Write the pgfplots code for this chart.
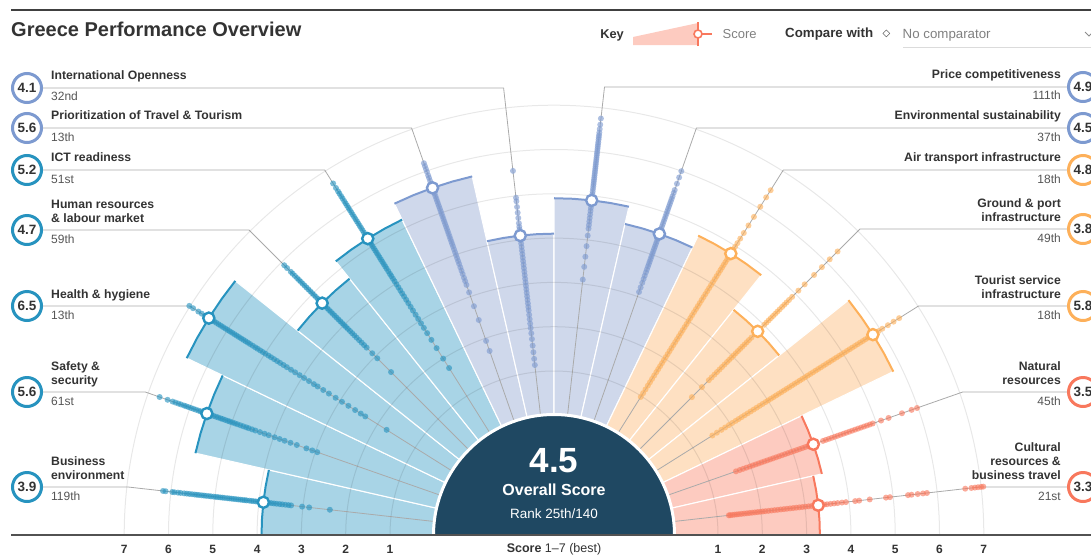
\documentclass[border=0pt]{standalone}
\usepackage{pgfplots}
\pgfplotsset{compat=1.18}
\usepackage{pgfplotstable}
\usepackage{fontspec}
\setmainfont{Liberation Sans}
\newfontfamily\dejavu{DejaVu Sans}

\definecolor{bF}{HTML}{A8D4E6}
\definecolor{bS}{HTML}{2793BF}
\definecolor{lF}{HTML}{CFD8EB}
\definecolor{lS}{HTML}{7D9AD0}
\definecolor{oF}{HTML}{FEE0C2}
\definecolor{oS}{HTML}{FDB05A}
\definecolor{sF}{HTML}{FDCBC0}
\definecolor{sS}{HTML}{F8785D}
\definecolor{navy}{HTML}{1F4862}
\definecolor{txt}{HTML}{333333}
\definecolor{rk}{HTML}{555555}
\definecolor{lg}{HTML}{AAAAAA}

% wedge geometry (angle offsets, f=0 centre point)
\pgfplotstableread{
d f
0 0
-6.4286 1
-3.2143 1
0 1
3.2143 1
6.4286 1
}\wshape
\pgfplotstableread{
d f
-6.4286 1
-3.2143 1
0 1
3.2143 1
6.4286 1
}\ashape
\pgfplotstableread{
d f
0 1
}\onerow

% scores of all countries per pillar (read off the dot strips)
\pgfplotstableread[row sep=\\]{s\\6.18\\6.12\\5.97\\5.92\\5.84\\5.78\\5.7\\5.64\\5.58\\5.52\\5.46\\5.41\\5.36\\5.3\\5.25\\5.2\\5.14\\5.09\\5.03\\4.98\\4.93\\4.88\\4.83\\4.78\\4.72\\4.67\\4.62\\4.57\\4.52\\4.47\\4.42\\4.37\\4.32\\4.28\\4.22\\4.17\\4.12\\4.07\\4.02\\3.97\\3.9\\3.84\\3.78\\3.72\\3.66\\3.6\\3.53\\3.47\\3.4\\3.33\\3.27\\3.02\\2.86\\2.39\\}\dA
\pgfplotstableread[row sep=\\]{s\\6.73\\6.54\\6.42\\6.35\\6.28\\6.22\\6.15\\6.1\\6.04\\5.98\\5.92\\5.86\\5.8\\5.75\\5.69\\5.64\\5.55\\5.5\\5.44\\5.38\\5.33\\5.27\\5.22\\5.16\\5.1\\5.05\\4.99\\4.93\\4.87\\4.8\\4.73\\4.66\\4.6\\4.52\\4.44\\4.33\\4.22\\4.12\\3.98\\3.86\\3.74\\3.6\\3.45\\3.22\\3.08\\2.96\\}\dB
\pgfplotstableread[row sep=\\]{s\\7.02\\6.92\\6.78\\6.69\\6.6\\6.55\\6.42\\6.36\\6.3\\6.24\\6.18\\6.12\\6.06\\6.0\\5.94\\5.88\\5.82\\5.76\\5.7\\5.64\\5.58\\5.52\\5.46\\5.4\\5.33\\5.26\\5.2\\5.13\\5.06\\4.99\\4.91\\4.84\\4.76\\4.68\\4.6\\4.51\\4.42\\4.31\\4.2\\4.08\\3.96\\3.83\\3.7\\3.6\\3.45\\3.3\\3.12\\2.95\\2.78\\2.6\\2.45\\2.33\\1.76\\}\dC
\pgfplotstableread[row sep=\\]{s\\5.91\\5.82\\5.7\\5.64\\5.57\\5.5\\5.44\\5.38\\5.32\\5.26\\5.2\\5.14\\5.08\\5.02\\4.96\\4.9\\4.84\\4.78\\4.66\\4.6\\4.54\\4.48\\4.42\\4.36\\4.3\\4.24\\4.18\\4.12\\4.06\\4.0\\3.94\\3.88\\3.81\\3.74\\3.67\\3.6\\3.52\\3.44\\3.36\\3.28\\3.1\\2.94\\2.5\\}\dD
\pgfplotstableread[row sep=\\]{s\\6.67\\6.55\\6.46\\6.4\\6.33\\6.27\\6.2\\6.14\\6.08\\6.02\\5.96\\5.9\\5.84\\5.78\\5.72\\5.66\\5.6\\5.54\\5.48\\5.42\\5.36\\5.3\\5.12\\5.06\\5.0\\4.94\\4.88\\4.82\\4.76\\4.7\\4.64\\4.58\\4.52\\4.46\\4.4\\4.33\\4.26\\4.2\\4.13\\4.06\\3.98\\3.9\\3.82\\3.74\\3.66\\3.57\\3.48\\3.38\\3.28\\3.17\\3.06\\2.94\\2.82\\2.68\\2.5\\2.28\\2.0\\1.75\\}\dE
\pgfplotstableread[row sep=\\]{s\\6.19\\6.12\\6.05\\5.98\\5.9\\5.84\\5.77\\5.7\\5.52\\5.46\\5.4\\5.34\\5.28\\5.22\\5.16\\5.1\\5.04\\4.98\\4.92\\4.86\\4.8\\4.74\\4.68\\4.62\\4.56\\4.5\\4.44\\4.38\\4.32\\4.26\\4.2\\4.13\\4.06\\3.99\\3.92\\3.85\\3.78\\3.7\\3.62\\3.54\\3.45\\3.37\\3.28\\3.1\\2.77\\2.44\\1.94\\1.7\\}\dF
\pgfplotstableread[row sep=\\]{s\\5.57\\4.96\\4.88\\4.75\\4.62\\4.5\\4.38\\4.3\\4.24\\4.0\\3.92\\3.84\\3.76\\3.68\\3.6\\3.52\\3.44\\3.36\\3.28\\3.2\\3.12\\3.04\\2.96\\2.88\\2.8\\2.72\\2.64\\2.56\\2.48\\2.4\\2.3\\2.2\\2.1\\2.0\\1.88\\1.75\\1.6\\1.45\\1.3\\1.16\\}\dG
\pgfplotstableread[row sep=\\]{s\\6.76\\6.62\\6.52\\6.44\\6.38\\6.33\\6.28\\6.22\\6.17\\6.12\\6.07\\6.02\\5.97\\5.92\\5.87\\5.82\\5.77\\5.72\\5.67\\5.62\\5.57\\5.52\\5.47\\5.42\\5.37\\5.32\\5.27\\5.22\\5.16\\5.1\\5.04\\4.8\\4.73\\4.66\\4.58\\4.5\\4.42\\4.34\\4.26\\4.1\\3.86\\3.62\\3.39\\3.1\\}\dH
\pgfplotstableread[row sep=\\]{s\\6.0\\5.85\\5.7\\5.55\\5.48\\5.4\\5.34\\5.28\\5.22\\5.16\\5.1\\5.04\\4.98\\4.92\\4.86\\4.8\\4.74\\4.68\\4.62\\4.38\\4.32\\4.26\\4.2\\4.14\\4.08\\4.02\\3.96\\3.9\\3.84\\3.78\\3.72\\3.65\\3.58\\3.5\\3.42\\3.33\\3.22\\3.11\\}\dI
\pgfplotstableread[row sep=\\]{s\\6.49\\6.3\\6.05\\5.78\\5.55\\5.35\\5.2\\5.08\\4.98\\4.9\\4.64\\4.57\\4.5\\4.43\\4.36\\4.28\\4.2\\4.12\\4.04\\3.96\\3.88\\3.8\\3.72\\3.64\\3.56\\3.48\\3.4\\3.32\\3.24\\3.16\\3.08\\3.0\\2.92\\2.84\\2.76\\2.68\\2.6\\2.52\\2.44\\2.36\\2.28\\2.2\\2.12\\2.04\\1.96\\1.88\\1.8\\1.72\\1.64\\1.55\\1.46\\1.37\\1.28\\1.18\\1.08\\0.98\\}\dJ
\pgfplotstableread[row sep=\\]{s\\6.35\\6.1\\5.85\\5.6\\5.3\\5.1\\4.9\\4.8\\4.72\\4.65\\4.58\\4.5\\4.43\\4.36\\4.29\\4.22\\4.15\\4.08\\4.01\\3.6\\3.52\\3.45\\3.38\\3.31\\3.24\\3.17\\3.1\\3.03\\2.96\\2.89\\2.82\\2.74\\2.66\\2.58\\2.5\\2.42\\2.33\\2.24\\2.02\\1.7\\}\dK
\pgfplotstableread[row sep=\\]{s\\6.5\\6.35\\6.2\\6.05\\5.95\\5.67\\5.6\\5.53\\5.46\\5.39\\5.32\\5.25\\5.18\\5.11\\5.04\\4.97\\4.9\\4.83\\4.76\\4.69\\4.62\\4.55\\4.48\\4.41\\4.34\\4.27\\4.2\\4.13\\4.06\\3.99\\3.92\\3.85\\3.78\\3.71\\3.64\\3.57\\3.5\\3.43\\3.36\\3.29\\3.22\\3.15\\3.08\\3.01\\2.94\\2.86\\2.78\\2.7\\2.62\\2.54\\2.46\\2.38\\2.3\\2.22\\2.14\\2.05\\1.96\\1.86\\1.76\\1.64\\1.52\\}\dL
\pgfplotstableread[row sep=\\]{s\\5.98\\5.85\\5.62\\5.3\\5.12\\4.92\\4.85\\4.78\\4.71\\4.64\\4.57\\4.5\\4.43\\4.36\\4.29\\4.22\\4.15\\4.08\\4.01\\3.94\\3.87\\3.8\\3.73\\3.38\\3.31\\3.24\\3.17\\3.1\\3.03\\2.96\\2.89\\2.82\\2.75\\2.68\\2.61\\2.54\\2.47\\2.4\\2.33\\2.26\\2.19\\2.12\\2.05\\1.98\\1.9\\1.82\\1.74\\1.65\\}\dM
\pgfplotstableread[row sep=\\]{s\\7.05\\7.0\\6.93\\6.86\\6.78\\6.64\\5.77\\5.68\\5.56\\5.42\\5.34\\4.93\\4.84\\4.47\\4.23\\4.14\\3.93\\3.84\\3.74\\3.66\\3.58\\3.5\\3.44\\3.22\\3.15\\3.08\\3.01\\2.94\\2.87\\2.8\\2.73\\2.66\\2.59\\2.52\\2.45\\2.38\\2.31\\2.24\\2.17\\2.1\\2.04\\1.98\\1.92\\1.86\\1.8\\1.74\\1.68\\1.62\\1.56\\1.5\\1.45\\1.4\\1.35\\1.3\\1.27\\}\dN

% radius of a score: 119.7 + 44.3*s  (axis unit = 1pt = 1px)
\newcommand\Wfill[3]{\addplot[fill=#3, draw=white, line width=1.1pt] table[x expr={\thisrow{f}*(119.7+44.3*#2)*cos(#1+(\thisrow{d}))}, y expr={\thisrow{f}*(119.7+44.3*#2)*sin(#1+(\thisrow{d}))}] {\wshape} -- cycle;}
\newcommand\Warc[3]{\addplot[draw=#3, line width=2pt] table[x expr={(119.7+44.3*#2)*cos(#1+(\thisrow{d}))}, y expr={(119.7+44.3*#2)*sin(#1+(\thisrow{d}))}] {\ashape};}
\newcommand\Wmark[3]{\addplot[only marks, mark=*, mark size=5.6pt, mark options={fill=white, draw=#3, line width=2.4pt}] table[x expr={(119.7+44.3*#2)*cos(#1)}, y expr={(119.7+44.3*#2)*sin(#1)}] {\onerow};}
\newcommand\Wdots[3]{\addplot[only marks, color=#2, mark=*, mark size=3pt, mark options={fill=#2, draw opacity=0, fill opacity=0.62}] table[x index=0, y index=0, x expr={(119.7+44.3*\thisrow{s})*cos(#1)}, y expr={(119.7+44.3*\thisrow{s})*sin(#1)}] {#3};}
\newcommand\Ring[3]{\addplot[only marks, mark=*, mark size=14.5pt, mark options={fill=white, draw=#3, line width=3pt}] coordinates {(#1,#2)};}
\newcommand\Lead[3]{\addplot[draw=lg, line width=0.8pt] coordinates {(#1,#3) (#2,#3) (0,0)};}
% text (placed after the axis, in a scope whose origin is the chart centre)
\newcommand\RN[3]{\node[inner sep=0, font={\fontsize{13.5}{15}\selectfont\bfseries}, text=txt] at (#1,#2) {#3};}
\newcommand\LT[2]{\node[anchor=base west, inner sep=0, font={\fontsize{12.2}{14}\selectfont\bfseries}, text=txt] at (-503,#1) {#2};}
\newcommand\LR[2]{\node[anchor=base west, inner sep=0, font={\fontsize{12}{14}\selectfont}, text=rk] at (-503,#1) {#2};}
\newcommand\RT[2]{\node[anchor=base east, inner sep=0, font={\fontsize{12.2}{14}\selectfont\bfseries}, text=txt] at (507,#1) {#2};}
\newcommand\RR[2]{\node[anchor=base east, inner sep=0, font={\fontsize{12}{14}\selectfont}, text=rk] at (507,#1) {#2};}

\begin{document}
\begin{tikzpicture}
\useasboundingbox (0,0) rectangle (1091pt,558pt);
\begin{axis}[at={(0pt,0pt)}, anchor=south west, x=1pt, y=1pt,
  xmin=-554, xmax=537, ymin=-23, ymax=535, hide axis, clip=false]

% wedges (Greece pillar scores)
\Wfill{173.5714}{3.9}{bF}
\Wfill{160.7143}{5.6}{bF}
\Wfill{147.8571}{6.5}{bF}
\Wfill{135}{4.7}{bF}
\Wfill{122.1429}{5.2}{bF}
\Wfill{109.2857}{5.6}{lF}
\Wfill{96.4286}{4.1}{lF}
\Wfill{83.5714}{4.9}{lF}
\Wfill{70.7143}{4.5}{lF}
\Wfill{57.8571}{4.8}{oF}
\Wfill{45}{3.8}{oF}
\Wfill{32.1429}{5.8}{oF}
\Wfill{19.2857}{3.5}{sF}
\Wfill{6.4286}{3.3}{sF}

% grid arcs, scores 1..7
\pgfplotsinvokeforeach{164.0,208.3,252.6,296.9,341.2,385.5,429.8}{
  \addplot[only marks, mark=o, mark size=#1pt, mark options={draw=black, draw opacity=0.09, line width=1pt}] coordinates {(0,0)};}

% outer arcs
\Warc{173.5714}{3.9}{bS}
\Warc{160.7143}{5.6}{bS}
\Warc{147.8571}{6.5}{bS}
\Warc{135}{4.7}{bS}
\Warc{122.1429}{5.2}{bS}
\Warc{109.2857}{5.6}{lS}
\Warc{96.4286}{4.1}{lS}
\Warc{83.5714}{4.9}{lS}
\Warc{70.7143}{4.5}{lS}
\Warc{57.8571}{4.8}{oS}
\Warc{45}{3.8}{oS}
\Warc{32.1429}{5.8}{oS}
\Warc{19.2857}{3.5}{sS}
\Warc{6.4286}{3.3}{sS}

% leader lines
\Lead{-511}{-425.9}{48}
\Lead{-511}{-408.7}{143}
\Lead{-511}{-364.5}{229}
\Lead{-511}{-305}{305}
\Lead{-511}{-229.3}{365}
\Lead{-511}{-142.4}{407}
\Lead{-511}{-50.4}{447}
\Lead{513}{50.5}{448}
\Lead{513}{142.4}{407}
\Lead{513}{229.3}{365}
\Lead{513}{306}{306}
\Lead{513}{364.5}{229}
\Lead{513}{408.7}{143}
\Lead{513}{425.9}{48}

% distribution dots
\Wdots{173.5714}{bS}{\dA}
\Wdots{160.7143}{bS}{\dB}
\Wdots{147.8571}{bS}{\dC}
\Wdots{135}{bS}{\dD}
\Wdots{122.1429}{bS}{\dE}
\Wdots{109.2857}{lS}{\dF}
\Wdots{96.4286}{lS}{\dG}
\Wdots{83.5714}{lS}{\dH}
\Wdots{70.7143}{lS}{\dI}
\Wdots{57.8571}{oS}{\dJ}
\Wdots{45}{oS}{\dK}
\Wdots{32.1429}{oS}{\dL}
\Wdots{19.2857}{sS}{\dM}
\Wdots{6.4286}{sS}{\dN}

% Greece markers
\Wmark{173.5714}{3.9}{bS}
\Wmark{160.7143}{5.6}{bS}
\Wmark{147.8571}{6.5}{bS}
\Wmark{135}{4.7}{bS}
\Wmark{122.1429}{5.2}{bS}
\Wmark{109.2857}{5.6}{lS}
\Wmark{96.4286}{4.1}{lS}
\Wmark{83.5714}{4.9}{lS}
\Wmark{70.7143}{4.5}{lS}
\Wmark{57.8571}{4.8}{oS}
\Wmark{45}{3.8}{oS}
\Wmark{32.1429}{5.8}{oS}
\Wmark{19.2857}{3.5}{sS}
\Wmark{6.4286}{3.3}{sS}

% central disc
\addplot[only marks, mark=*, mark size=120.5pt, mark options={fill=navy, draw=white, line width=3pt}] coordinates {(0,0)};

% top rule
\addplot[draw=black!75, line width=2pt] coordinates {(-543,525) (540,525)};

% key
\addplot[fill=sF, draw=none] coordinates {(79,490) (79,498) (144,512) (144,490)} -- cycle;
\addplot[draw=sS, line width=2pt] coordinates {(144,489) (144,513)};
\addplot[draw=sS, line width=1.2pt] coordinates {(144,501) (158,501)};
\addplot[only marks, mark=*, mark size=4pt, mark options={fill=white, draw=sS, line width=1.6pt}] coordinates {(144,501)};
\addplot[draw=black!14, line width=1pt] coordinates {(349,487.5) (540,487.5)};
\addplot[draw=black!45, line width=0.8pt] coordinates {(531,503) (535,499) (539,503)};

% rings
\Ring{-527}{447}{lS}
\Ring{-527}{407}{lS}
\Ring{-527}{365}{bS}
\Ring{-527}{305}{bS}
\Ring{-527}{229}{bS}
\Ring{-527}{143}{bS}
\Ring{-527}{48}{bS}
\Ring{529}{448}{lS}
\Ring{529}{407}{lS}
\Ring{529}{365}{oS}
\Ring{529}{306}{oS}
\Ring{529}{229}{oS}
\Ring{529}{143}{sS}
\Ring{529}{48}{sS}
\end{axis}

\begin{scope}[shift={(554pt,23pt)}, x=1pt, y=1pt]
% mask below the baseline, and the baseline
\fill[white] (-560,-30) rectangle (545,0);
\draw[black!68, line width=1.5pt] (-543,0) -- (540,0);

% ring values
\RN{-527}{447}{4.1}\RN{-527}{407}{5.6}\RN{-527}{365}{5.2}\RN{-527}{305}{4.7}
\RN{-527}{229}{6.5}\RN{-527}{143}{5.6}\RN{-527}{48}{3.9}
\RN{529}{448}{4.9}\RN{529}{407}{4.5}\RN{529}{365}{4.8}\RN{529}{306}{3.8}
\RN{529}{229}{5.8}\RN{529}{143}{3.5}\RN{529}{48}{3.3}

% label texts left
\LT{455}{International Openness}\LR{434}{32nd}
\LT{415}{Prioritization of Travel \& Tourism}\LR{394}{13th}
\LT{373}{ICT readiness}\LR{352}{51st}
\LT{327}{Human resources}\LT{313}{\& labour market}\LR{292}{59th}
\LT{237}{Health \& hygiene}\LR{216}{13th}
\LT{165}{Safety \&}\LT{151}{security}\LR{130}{61st}
\LT{70}{Business}\LT{56}{environment}\LR{35}{119th}
% label texts right
\RT{456}{Price competitiveness}\RR{435}{111th}
\RT{415}{Environmental sustainability}\RR{394}{37th}
\RT{373}{Air transport infrastructure}\RR{352}{18th}
\RT{328}{Ground \& port}\RT{314}{infrastructure}\RR{293}{49th}
\RT{251}{Tourist service}\RT{237}{infrastructure}\RR{216}{18th}
\RT{165}{Natural}\RT{151}{resources}\RR{130}{45th}
\RT{84}{Cultural}\RT{70}{resources \&}\RT{56}{business travel}\RR{35}{21st}

% centre text
\node[text=white, font={\fontsize{35}{38}\selectfont\bfseries}] at (0,74) {4.5};
\node[text=white, font={\fontsize{16}{18}\selectfont\bfseries}] at (0,45) {Overall Score};
\node[text=white, font={\fontsize{13.5}{15}\selectfont}] at (0,21) {Rank 25th/140};

% score scale
\foreach \k in {1,...,7}{
  \node[text=txt, font={\fontsize{12}{14}\selectfont\bfseries}] at ({-(119.7+44.3*\k)},-14) {\k};
  \node[text=txt, font={\fontsize{12}{14}\selectfont\bfseries}] at ({119.7+44.3*\k},-14) {\k};}
\node[text=txt, font={\fontsize{12.5}{14}\selectfont}] at (0,-14) {\textbf{Score} 1–7 (best)};

% title and key texts
\node[anchor=base west, inner sep=0, text=txt, font={\fontsize{20}{22}\selectfont\bfseries}] at (-543,498) {Greece Performance Overview};
\node[text=txt, font={\fontsize{12.8}{14}\selectfont\bfseries}] at (58,500) {Key};
\node[anchor=west, inner sep=0, text=black!50, font={\fontsize{13}{14}\selectfont}] at (168.5,501) {Score};
\node[anchor=west, inner sep=0, text=txt, font={\fontsize{13.3}{14}\selectfont\bfseries}] at (231,501) {Compare with};
\node[text=txt, font={\dejavu\fontsize{10}{12}\selectfont}] at (332.5,501) {◇};
\node[anchor=west, inner sep=0, text=black!50, font={\fontsize{13.3}{14}\selectfont}] at (348.5,500) {No comparator};
\end{scope}
\end{tikzpicture}
\end{document}
